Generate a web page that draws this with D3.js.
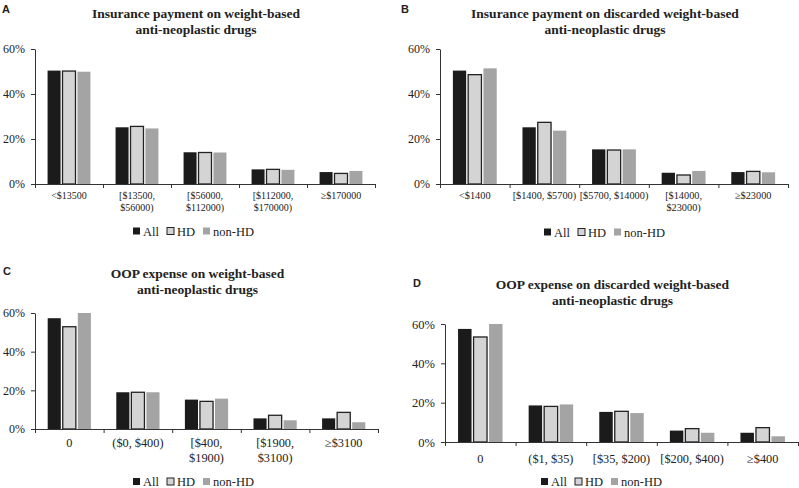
<!DOCTYPE html>
<html>
<head>
<meta charset="utf-8">
<script src="https://cdn.jsdelivr.net/npm/d3@7"></script>
<style>
  body { margin: 0; background: #fff; }
  svg { display: block; }
  text { font-family: "Liberation Serif", "Times New Roman", serif; fill: #222; }
</style>
</head>
<body>
<div id="chart"></div>
<script>
const series = ["All", "HD", "non-HD"];

const labelsA = ["<$13500", "[$13500,\n$56000)", "[$56000,\n$112000)", "[$112000,\n$170000)", "≥$170000"];
const allA = [50.4, 25.2, 14.1, 6.5, 5.3];
const hdA = [50.2, 25.6, 14.0, 6.5, 4.7];
const nonHdA = [49.9, 24.7, 14.0, 6.3, 5.8];

const labelsB = ["<$1400", "[$1400, $5700)", "[$5700, $14000)", "[$14000,\n$23000)", "≥$23000"];
const allB = [50.4, 25.2, 15.4, 5.0, 5.3];
const hdB = [48.6, 27.4, 15.1, 4.0, 5.6];
const nonHdB = [51.4, 23.7, 15.4, 5.8, 5.2];

const labelsC = ["0", "($0, $400)", "[$400,\n$1900)", "[$1900,\n$3100)", "≥$3100"];
const allC = [57.3, 19.0, 15.2, 5.5, 5.5];
const hdC = [52.9, 19.0, 14.3, 7.1, 8.6];
const nonHdC = [60.0, 19.0, 15.7, 4.5, 3.5];

const labelsD = ["0", "($1, $35)", "[$35, $200)", "[$200, $400)", "≥$400"];
const allD = [57.5, 18.6, 15.3, 5.8, 4.7];
const hdD = [53.4, 18.1, 15.6, 6.8, 7.3];
const nonHdD = [60.0, 19.1, 14.7, 4.7, 2.9];

const yTicks = [0, 20, 40, 60];

const fills = { "All": "#1b1b1b", "HD": "#d4d4d4", "non-HD": "#a4a4a4" };
const strokes = { "All": "none", "HD": "#222", "non-HD": "none" };

const svg = d3.select("#chart").append("svg")
  .attr("width", 799)
  .attr("height", 488);

const panels = [
  { letter: "A", lx: 2, ly: 13, title: ["Insurance payment on weight-based", "anti-neoplastic drugs"], ty: 18,
    labels: labelsA, vals: [allA, hdA, nonHdA], x0: 35, x1: 375, y0: 184, yTop: 49,
    xFont: 10, yFont: 12, labOff: 15, lineH: 12, legY: 231, legX: 133, legFont: 12.5, titleFont: 13.5 },
  { letter: "B", lx: 401, ly: 13, title: ["Insurance payment on discarded weight-based", "anti-neoplastic drugs"], ty: 18,
    labels: labelsB, vals: [allB, hdB, nonHdB], x0: 440, x1: 788, y0: 184, yTop: 49,
    xFont: 10.3, yFont: 12, labOff: 15, lineH: 12, legY: 232, legX: 544, legFont: 12.5, titleFont: 13.5 },
  { letter: "C", lx: 3, ly: 275, title: ["OOP expense on weight-based", "anti-neoplastic drugs"], ty: 278,
    labels: labelsC, vals: [allC, hdC, nonHdC], x0: 35, x1: 378, y0: 429, yTop: 313,
    xFont: 12.3, yFont: 12, labOff: 18, lineH: 15, legY: 481.5, legX: 133, legFont: 12.5, titleFont: 13.5 },
  { letter: "D", lx: 413, ly: 287, title: ["OOP expense on discarded weight-based", "anti-neoplastic drugs"], ty: 289,
    labels: labelsD, vals: [allD, hdD, nonHdD], x0: 445, x1: 798, y0: 442, yTop: 324,
    xFont: 12.3, yFont: 12.5, labOff: 21, lineH: 15, legY: 481.5, legX: 541, legFont: 12.5, titleFont: 13.5 }
];

panels.forEach(p => drawPanel(p));

function drawPanel(p) {
  const g = svg.append("g");
  const n = p.labels.length;

  const x = d3.scaleBand()
    .domain(d3.range(n))
    .range([p.x0, p.x1]);
  const bw = x.bandwidth();

  const xs = d3.scaleBand()
    .domain(series)
    .range([bw * 0.185, bw * 0.815])
    .paddingInner(0.13);

  const y = d3.scaleLinear()
    .domain([0, 60])
    .range([p.y0, p.yTop]);

  // panel letter
  g.append("text")
    .attr("x", p.lx)
    .attr("y", p.ly)
    .style("font-family", "'Liberation Sans', Arial, sans-serif")
    .style("font-weight", "bold")
    .style("font-size", "11px")
    .text(p.letter);

  // title
  const cx = (p.x0 + p.x1) / 2 - 9;
  p.title.forEach((t, i) => {
    g.append("text")
      .attr("x", cx)
      .attr("y", p.ty + i * 16)
      .attr("text-anchor", "middle")
      .style("font-weight", "bold")
      .style("font-size", p.titleFont + "px")
      .text(t);
  });

  // bars
  const rows = [];
  d3.range(n).forEach(i => {
    series.forEach((s, j) => rows.push({ cat: i, s: s, v: p.vals[j][i] }));
  });

  g.selectAll("rect.bar")
    .data(rows)
    .enter()
    .append("rect")
    .attr("class", "bar")
    .attr("x", d => x(d.cat) + xs(d.s))
    .attr("y", d => y(d.v))
    .attr("width", xs.bandwidth())
    .attr("height", d => p.y0 - y(d.v))
    .attr("fill", d => fills[d.s])
    .attr("stroke", d => strokes[d.s])
    .attr("stroke-width", 1.3);

  // y axis
  const yAxis = d3.axisLeft(y)
    .tickValues(yTicks)
    .tickFormat(d => d + "%")
    .tickSize(4)
    .tickSizeOuter(0)
    .tickPadding(6);

  const ya = g.append("g")
    .attr("transform", `translate(${p.x0},0)`)
    .call(yAxis);
  ya.selectAll("text")
    .style("font-size", p.yFont + "px")
    .style("font-family", "'Liberation Serif', 'Times New Roman', serif")
    .attr("fill", "#222");
  ya.selectAll("path, line").attr("stroke", "#333");

  // x axis: boundary ticks
  const xEdge = d3.scaleLinear().domain([0, n]).range([p.x0, p.x1]);
  const xa = g.append("g")
    .attr("transform", `translate(0,${p.y0})`)
    .call(d3.axisBottom(xEdge).tickValues(d3.range(n + 1)).tickFormat("").tickSize(4).tickSizeOuter(0));
  xa.selectAll("path, line").attr("stroke", "#333");

  // x labels
  const lab = g.append("g")
    .attr("transform", `translate(0,${p.y0 + p.labOff})`);
  p.labels.forEach((l, i) => {
    const t = lab.append("text")
      .attr("text-anchor", "middle")
      .style("font-size", p.xFont + "px");
    l.split("\n").forEach((line, k) => {
      t.append("tspan")
        .attr("x", x(i) + bw / 2)
        .attr("y", k * p.lineH)
        .text(line);
    });
  });

  // legend
  const leg = g.append("g")
    .attr("transform", `translate(${p.legX},${p.legY})`);
  const offsets = [0, 34, 70];
  series.forEach((s, j) => {
    leg.append("rect")
      .attr("x", offsets[j])
      .attr("y", -3.5)
      .attr("width", 7)
      .attr("height", 7)
      .attr("fill", fills[s])
      .attr("stroke", strokes[s])
      .attr("stroke-width", 1);
    leg.append("text")
      .attr("x", offsets[j] + 10)
      .attr("y", 4.5)
      .style("font-size", p.legFont + "px")
      .text(s);
  });
}
</script>
</body>
</html>
